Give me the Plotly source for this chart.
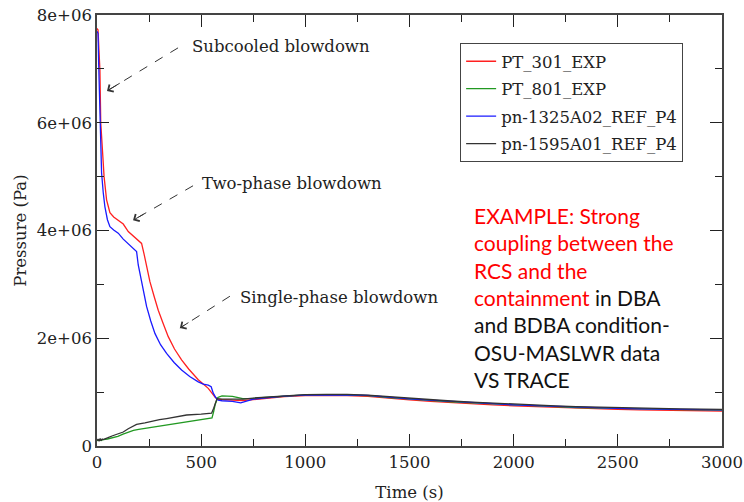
import plotly.graph_objects as go

# ---------------- data ----------------
t_pt301 = [0, 5, 10, 14, 18, 23, 27, 34, 40, 46, 54, 62, 80, 100, 126, 150, 180, 214,
           226, 238, 254, 274, 294, 318, 342, 372, 406, 440, 470, 486, 510, 534, 548,
           558, 568, 580, 600, 650, 700, 750, 800, 900, 1000, 1100, 1200, 1300, 1400,
           1500, 1600, 1700, 1800, 1900, 2000, 2100, 2200, 2300, 2400, 2500, 2600,
           2700, 2800, 2900, 3000]
p_pt301 = [7.75e6, 7.72e6, 7.3e6, 6.98e6, 6.0e6, 5.75e6, 5.44e6, 5.0e6, 4.75e6, 4.57e6,
           4.45e6, 4.33e6, 4.25e6, 4.19e6, 4.12e6, 3.98e6, 3.87e6, 3.76e6,
           3.56e6, 3.36e6, 3.05e6, 2.78e6, 2.52e6, 2.27e6, 2.03e6, 1.8e6, 1.6e6,
           1.43e6, 1.29e6, 1.23e6, 1.15e6, 1.07e6, 1.0e6, 0.94e6, 0.9e6, 0.87e6,
           0.86e6, 0.85e6, 0.845e6, 0.86e6, 0.88e6, 0.915e6, 0.935e6, 0.94e6, 0.935e6,
           0.92e6, 0.885e6, 0.855e6, 0.83e6, 0.805e6, 0.785e6, 0.765e6, 0.745e6,
           0.73e6, 0.715e6, 0.7e6, 0.69e6, 0.68e6, 0.67e6, 0.665e6, 0.66e6, 0.655e6,
           0.65e6]

t_pt801 = [0, 10, 20, 30, 50, 75, 100, 125, 150, 175, 200, 250, 300, 350, 400, 450,
           500, 530, 552, 560, 568, 580, 600, 650, 700, 750, 800, 900, 1000, 1100,
           1200, 1300, 1400, 1500, 1600, 1700, 1800, 1900, 2000, 2100, 2200, 2300,
           2400, 2500, 2600, 2700, 2800, 2900, 3000]
p_pt801 = [0.1e6, 0.11e6, 0.1e6, 0.12e6, 0.13e6, 0.15e6, 0.18e6, 0.22e6, 0.26e6,
           0.29e6, 0.31e6, 0.34e6, 0.37e6, 0.395e6, 0.42e6, 0.45e6, 0.48e6, 0.5e6,
           0.52e6, 0.64e6, 0.78e6, 0.9e6, 0.93e6, 0.92e6, 0.88e6, 0.885e6, 0.9e6,
           0.93e6, 0.95e6, 0.955e6, 0.95e6, 0.935e6, 0.9e6, 0.87e6, 0.845e6, 0.82e6,
           0.8e6, 0.78e6, 0.76e6, 0.745e6, 0.73e6, 0.715e6, 0.705e6, 0.695e6,
           0.685e6, 0.68e6, 0.675e6, 0.67e6, 0.665e6]

t_pn1325 = [0, 5, 8, 11, 14, 18, 22, 30, 38, 50, 62, 80, 102, 126, 150, 175, 190,
            198, 206, 214, 226, 238, 258, 278, 305, 334, 370, 406, 445, 486, 510,
            534, 548, 558, 570, 582, 600, 650, 690, 720, 750, 800, 900, 1000, 1100,
            1200, 1300, 1400, 1500, 1600, 1700, 1800, 1900, 2000, 2100, 2200, 2300,
            2400, 2500, 2600, 2700, 2800, 2900, 3000]
p_pn1325 = [7.7e6, 7.66e6, 7.1e6, 6.67e6, 6.0e6, 5.5e6, 5.07e6, 4.7e6, 4.44e6, 4.2e6,
            4.07e6, 4.01e6, 3.95e6, 3.84e6, 3.75e6, 3.66e6, 3.61e6, 3.36e6, 3.2e6,
            3.02e6, 2.8e6, 2.59e6, 2.32e6, 2.09e6, 1.88e6, 1.72e6, 1.55e6, 1.41e6,
            1.29e6, 1.19e6, 1.15e6, 1.13e6, 1.1e6, 0.98e6, 0.9e6, 0.85e6, 0.84e6,
            0.83e6, 0.8e6, 0.83e6, 0.87e6, 0.89e6, 0.925e6, 0.945e6, 0.95e6, 0.95e6,
            0.94e6, 0.905e6, 0.875e6, 0.85e6, 0.825e6, 0.805e6, 0.785e6, 0.765e6,
            0.75e6, 0.735e6, 0.72e6, 0.71e6, 0.7e6, 0.69e6, 0.685e6, 0.68e6,
            0.675e6, 0.67e6]

t_pn1595 = [0, 5, 10, 15, 20, 25, 30, 40, 50, 75, 100, 126, 150, 175, 190, 230, 270,
            300, 334, 400, 430, 500, 550, 560, 568, 576, 600, 650, 700, 750, 800, 900,
            1000, 1100, 1200, 1300, 1400, 1500, 1600, 1700, 1800, 1900, 2000, 2100,
            2200, 2300, 2400, 2500, 2600, 2700, 2800, 2900, 3000]
p_pn1595 = [0.1e6, 0.13e6, 0.09e6, 0.14e6, 0.1e6, 0.13e6, 0.12e6, 0.14e6, 0.15e6,
            0.19e6, 0.22e6, 0.26e6, 0.32e6, 0.37e6, 0.4e6, 0.43e6, 0.47e6, 0.49e6,
            0.51e6, 0.55e6, 0.575e6, 0.59e6, 0.61e6, 0.7e6, 0.8e6, 0.88e6, 0.87e6,
            0.87e6, 0.87e6, 0.89e6, 0.905e6, 0.935e6, 0.955e6, 0.96e6, 0.96e6,
            0.945e6, 0.915e6, 0.885e6, 0.86e6, 0.835e6, 0.815e6, 0.795e6, 0.775e6,
            0.76e6, 0.745e6, 0.73e6, 0.72e6, 0.71e6, 0.7e6, 0.695e6, 0.69e6,
            0.685e6, 0.68e6]

series_names = ["PT_301_EXP", "PT_801_EXP", "pn-1325A02_REF_P4", "pn-1595A01_REF_P4"]
series_colors = ["#ff2020", "#229922", "#1a1aff", "#333333"]

# y tick labels: default d3 ".0e" label -> label shown in the reference
y_default_labels = ["0e+0", "2e+6", "4e+6", "6e+6", "8e+6"]
y_ticktext = ["0", "2e+06", "4e+06", "6e+06", "8e+06"]

phase_labels = ["Subcooled blowdown", "Two-phase blowdown", "Single-phase blowdown"]
label_pos_t = [446, 494, 677]
label_pos_p = [7.41e6, 4.88e6, 2.75e6]
arrow_tail_t = [389, 461, 638]
arrow_tail_p = [7.39e6, 4.83e6, 2.78e6]
arrow_head_t = [48, 173, 398]
arrow_head_p = [6.59e6, 4.19e6, 2.19e6]

# ---------------- figure ----------------
SERIF = "DejaVu Serif"
fig = go.Figure()
for i, (t, p) in enumerate([(t_pt301, p_pt301), (t_pt801, p_pt801),
                            (t_pn1325, p_pn1325), (t_pn1595, p_pn1595)]):
    fig.add_trace(go.Scatter(x=t, y=p, mode="lines", name=series_names[i],
                             legendgroup=f"g{i}",
                             line=dict(color=series_colors[i], width=1.3)))

# dashed arrows
for i in range(3):
    fig.add_shape(type="line", xref="x", yref="y",
                  x0=arrow_tail_t[i], y0=arrow_tail_p[i],
                  x1=arrow_head_t[i], y1=arrow_head_p[i],
                  line=dict(color="#333333", width=1, dash="dash"))
    fig.add_annotation(x=arrow_head_t[i], y=arrow_head_p[i],
                       ax=arrow_head_t[i] + 0.2 * (arrow_tail_t[i] - arrow_head_t[i]),
                       ay=arrow_head_p[i] + 0.2 * (arrow_tail_p[i] - arrow_head_p[i]),
                       axref="x", ayref="y", xref="x", yref="y", text="",
                       showarrow=True, arrowhead=4, arrowsize=1.6, arrowwidth=1,
                       arrowcolor="#333333", standoff=0)
    fig.add_annotation(x=label_pos_t[i], y=label_pos_p[i], text=phase_labels[i],
                       showarrow=False, xanchor="left", yanchor="middle",
                       font=dict(family=SERIF, size=16.5, color="#222222"))

example_text = ("<span style='color:#ff0000'>EXAMPLE: Strong<br>coupling between the<br>"
                "RCS and the<br>containment</span> in DBA<br>and BDBA condition-<br>"
                "OSU-MASLWR data<br>VS TRACE")
fig.add_annotation(x=0.6, y=0.3445, xref="paper", yref="paper", text=example_text,
                   showarrow=False, xanchor="left", yanchor="middle", align="left",
                   font=dict(family="Lato", size=21, color="#111111"))

axis_common = dict(showgrid=False, zeroline=False, showline=True, linecolor="#444444",
                   linewidth=1.5, mirror="ticks", ticks="inside", ticklen=12,
                   tickcolor="#222222", tickwidth=1, automargin=False,
                   tickfont=dict(family=SERIF, size=16.5, color="#222222"))

fig.update_xaxes(range=[0, 3000], tickmode="linear", tick0=0, dtick=500,
                 minor=dict(dtick=250, ticks="inside", ticklen=7, tickcolor="#222222"),
                 title=dict(text="Time (s)", font=dict(family=SERIF, size=16.5, color="#222222"),
                            standoff=16),
                 **axis_common)
fig.update_yaxes(range=[0, 8e6], tickmode="linear", tick0=0, dtick=2e6, tickformat=".0e",
                 labelalias=dict(zip(y_default_labels, y_ticktext)),
                 minor=dict(dtick=1e6, ticks="inside", ticklen=7, tickcolor="#222222"),
                 title=dict(text="Pressure (Pa)", font=dict(family=SERIF, size=16.5, color="#222222"),
                            standoff=6),
                 **axis_common)

fig.update_layout(
    width=744, height=502,
    margin=dict(l=97, r=22, t=15, b=56),
    paper_bgcolor="white", plot_bgcolor="white",
    showlegend=True,
    legend=dict(x=0.581, y=0.935, xanchor="left", yanchor="top",
                bordercolor="#444444", borderwidth=1, bgcolor="white",
                traceorder="grouped", tracegroupgap=3,
                font=dict(family=SERIF, size=16.5, color="#222222")),
)

fig.write_html("out.html")
